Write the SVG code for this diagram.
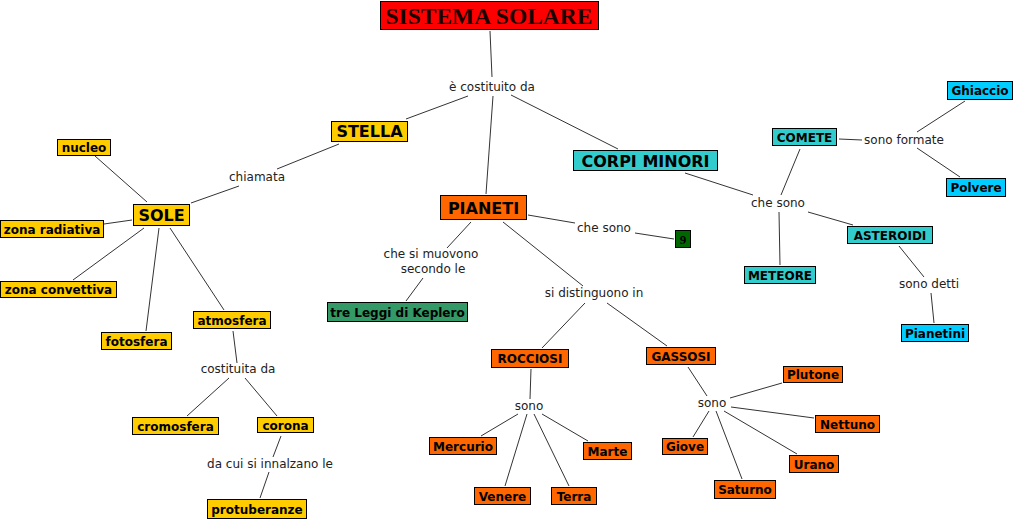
<svg xmlns="http://www.w3.org/2000/svg" width="1015" height="521" viewBox="0 0 1015 521">
<style>
.bg{fill:#fff}
rect{stroke:#000;stroke-width:1}
.y{fill:#ffcc00}.o{fill:#ff6600}.t{fill:#33cccc}.b{fill:#00ccff}.g{fill:#339966}.dg{fill:#006600}.r{fill:#ff0000}
text{font-family:"DejaVu Sans","Verdana",sans-serif;text-anchor:middle;fill:#000}
.s{font-size:12px;font-weight:bold}
.L{font-size:16px;font-weight:bold}
.lb{font-size:12px;fill:#222}
.tm{font-family:"Liberation Serif","Times New Roman",serif;font-weight:bold}
#links line{stroke:#333;stroke-width:1}
</style>
<rect class="bg" x="0" y="0" width="1015" height="521" style="stroke:none"/>
<g id="links">
<line x1="490" y1="31" x2="492" y2="77"/>
<line x1="468" y1="96" x2="406" y2="119"/>
<line x1="493" y1="96" x2="486" y2="194"/>
<line x1="511" y1="95" x2="618" y2="149"/>
<line x1="339" y1="144" x2="277" y2="169"/>
<line x1="239" y1="186" x2="191" y2="203"/>
<line x1="95" y1="156" x2="147" y2="202"/>
<line x1="104" y1="224" x2="132" y2="220"/>
<line x1="144" y1="228" x2="73" y2="280"/>
<line x1="159" y1="228" x2="146" y2="331"/>
<line x1="170" y1="228" x2="224" y2="310"/>
<line x1="233" y1="331" x2="237" y2="363"/>
<line x1="229" y1="378" x2="187" y2="416"/>
<line x1="245" y1="378" x2="277" y2="416"/>
<line x1="281" y1="436" x2="273" y2="457"/>
<line x1="269" y1="472" x2="260" y2="498"/>
<line x1="471" y1="222" x2="447" y2="248"/>
<line x1="423" y1="278" x2="406" y2="301"/>
<line x1="528" y1="215" x2="575" y2="223"/>
<line x1="635" y1="233" x2="674" y2="239"/>
<line x1="503" y1="222" x2="583" y2="286"/>
<line x1="585" y1="303" x2="542" y2="348"/>
<line x1="607" y1="303" x2="667" y2="346"/>
<line x1="531" y1="369" x2="530" y2="399"/>
<line x1="518" y1="414" x2="481" y2="436"/>
<line x1="527" y1="414" x2="505" y2="486"/>
<line x1="534" y1="414" x2="569" y2="486"/>
<line x1="542" y1="414" x2="588" y2="441"/>
<line x1="688" y1="367" x2="707" y2="396"/>
<line x1="730" y1="398" x2="782" y2="383"/>
<line x1="731" y1="407" x2="814" y2="418"/>
<line x1="724" y1="411" x2="797" y2="454"/>
<line x1="716" y1="411" x2="742" y2="479"/>
<line x1="709" y1="411" x2="693" y2="437"/>
<line x1="685" y1="173" x2="753" y2="195"/>
<line x1="781" y1="195" x2="800" y2="149"/>
<line x1="839" y1="139" x2="862" y2="140"/>
<line x1="917" y1="132" x2="965" y2="101"/>
<line x1="917" y1="148" x2="960" y2="177"/>
<line x1="808" y1="212" x2="853" y2="225"/>
<line x1="779" y1="212" x2="780" y2="265"/>
<line x1="899" y1="246" x2="924" y2="277"/>
<line x1="931" y1="293" x2="934" y2="323"/>
</g>
<g id="labels">
<text class="lb" x="492" y="91">è costituito da</text>
<text class="lb" x="257" y="181">chiamata</text>
<text class="lb" x="431" y="258">che si muovono</text>
<text class="lb" x="433" y="273">secondo le</text>
<text class="lb" x="604" y="232">che sono</text>
<text class="lb" x="594" y="297">si distinguono in</text>
<text class="lb" x="238" y="373">costituita da</text>
<text class="lb" x="270" y="468">da cui si innalzano le</text>
<text class="lb" x="529" y="410">sono</text>
<text class="lb" x="712" y="407">sono</text>
<text class="lb" x="778" y="207">che sono</text>
<text class="lb" x="904" y="144">sono formate</text>
<text class="lb" x="929" y="288">sono detti</text>
</g>
<g id="n-sistema"><rect class="r" x="380.5" y="1.5" width="218" height="28"/><text class="tm" x="489" y="24" font-size="23.5" style="fill:#1a0000">SISTEMA SOLARE</text></g>
<g id="n-stella"><rect class="y" x="331.5" y="121.5" width="76" height="20"/><text class="L" x="369.5" y="137">STELLA</text></g>
<g id="n-sole"><rect class="y" x="133.5" y="204.5" width="56" height="21"/><text class="L" x="161.5" y="221">SOLE</text></g>
<g id="n-nucleo"><rect class="y" x="57.5" y="139.5" width="53" height="16"/><text class="s" x="84" y="152">nucleo</text></g>
<g id="n-radiativa"><rect class="y" x="0.5" y="220.5" width="103" height="17"/><text class="s" x="52" y="233.5">zona radiativa</text></g>
<g id="n-convettiva"><rect class="y" x="0.5" y="281.5" width="116" height="16"/><text class="s" x="58.5" y="294">zona convettiva</text></g>
<g id="n-fotosfera"><rect class="y" x="101.5" y="332.5" width="70" height="17"/><text class="s" x="136.5" y="345.5">fotosfera</text></g>
<g id="n-atmosfera"><rect class="y" x="193.5" y="311.5" width="77" height="17"/><text class="s" x="232" y="324.5">atmosfera</text></g>
<g id="n-cromosfera"><rect class="y" x="132.5" y="417.5" width="86" height="17"/><text class="s" x="175.5" y="430.5">cromosfera</text></g>
<g id="n-corona"><rect class="y" x="257.5" y="417.5" width="56" height="15"/><text class="s" x="285.5" y="429.5">corona</text></g>
<g id="n-protuberanze"><rect class="y" x="207.5" y="499.5" width="99" height="19"/><text class="s" x="257" y="513.5">protuberanze</text></g>
<g id="n-pianeti"><rect class="o" x="440.5" y="195.5" width="86" height="24"/><text class="L" x="483.5" y="213.5">PIANETI</text></g>
<g id="n-keplero"><rect class="g" x="327.5" y="302.5" width="140" height="19"/><text class="s" x="397.5" y="316.5">tre Leggi di Keplero</text></g>
<g id="n-nove"><rect class="dg" x="675.5" y="230.5" width="15" height="17"/><text class="tm" x="683" y="244" font-size="13">9</text></g>
<g id="n-rocciosi"><rect class="o" x="491.5" y="349.5" width="77" height="18"/><text class="s" x="530" y="363">ROCCIOSI</text></g>
<g id="n-gassosi"><rect class="o" x="646.5" y="347.5" width="69" height="17"/><text class="s" x="681" y="360.5">GASSOSI</text></g>
<g id="n-mercurio"><rect class="o" x="429.5" y="437.5" width="67" height="17"/><text class="s" x="463" y="450.5">Mercurio</text></g>
<g id="n-venere"><rect class="o" x="474.5" y="487.5" width="56" height="17"/><text class="s" x="502.5" y="500.5">Venere</text></g>
<g id="n-terra"><rect class="o" x="551.5" y="487.5" width="45" height="17"/><text class="s" x="574" y="500.5">Terra</text></g>
<g id="n-marte"><rect class="o" x="583.5" y="442.5" width="48" height="17"/><text class="s" x="607.5" y="455.5">Marte</text></g>
<g id="n-plutone"><rect class="o" x="783.5" y="366.5" width="59" height="16"/><text class="s" x="813" y="379">Plutone</text></g>
<g id="n-nettuno"><rect class="o" x="815.5" y="415.5" width="64" height="17"/><text class="s" x="847.5" y="428.5">Nettuno</text></g>
<g id="n-urano"><rect class="o" x="789.5" y="455.5" width="49" height="17"/><text class="s" x="814" y="468.5">Urano</text></g>
<g id="n-saturno"><rect class="o" x="714.5" y="480.5" width="61" height="18"/><text class="s" x="745" y="494">Saturno</text></g>
<g id="n-giove"><rect class="o" x="662.5" y="438.5" width="45" height="16"/><text class="s" x="685" y="451">Giove</text></g>
<g id="n-corpi"><rect class="t" x="573.5" y="150.5" width="144" height="20"/><text class="L" x="645.5" y="166.5" font-size="16.5">CORPI MINORI</text></g>
<g id="n-comete"><rect class="t" x="772.5" y="128.5" width="64" height="17"/><text class="s" x="804.5" y="141.5">COMETE</text></g>
<g id="n-ghiaccio"><rect class="b" x="947.5" y="81.5" width="65" height="18"/><text class="s" x="980" y="95">Ghiaccio</text></g>
<g id="n-polvere"><rect class="b" x="946.5" y="178.5" width="59" height="18"/><text class="s" x="976" y="192">Polvere</text></g>
<g id="n-asteroidi"><rect class="t" x="847.5" y="226.5" width="85" height="17"/><text class="s" x="890" y="239.5">ASTEROIDI</text></g>
<g id="n-meteore"><rect class="t" x="744.5" y="266.5" width="71" height="17"/><text class="s" x="780" y="279.5">METEORE</text></g>
<g id="n-pianetini"><rect class="b" x="901.5" y="324.5" width="67" height="17"/><text class="s" x="935" y="337.5">Pianetini</text></g>
</svg>
